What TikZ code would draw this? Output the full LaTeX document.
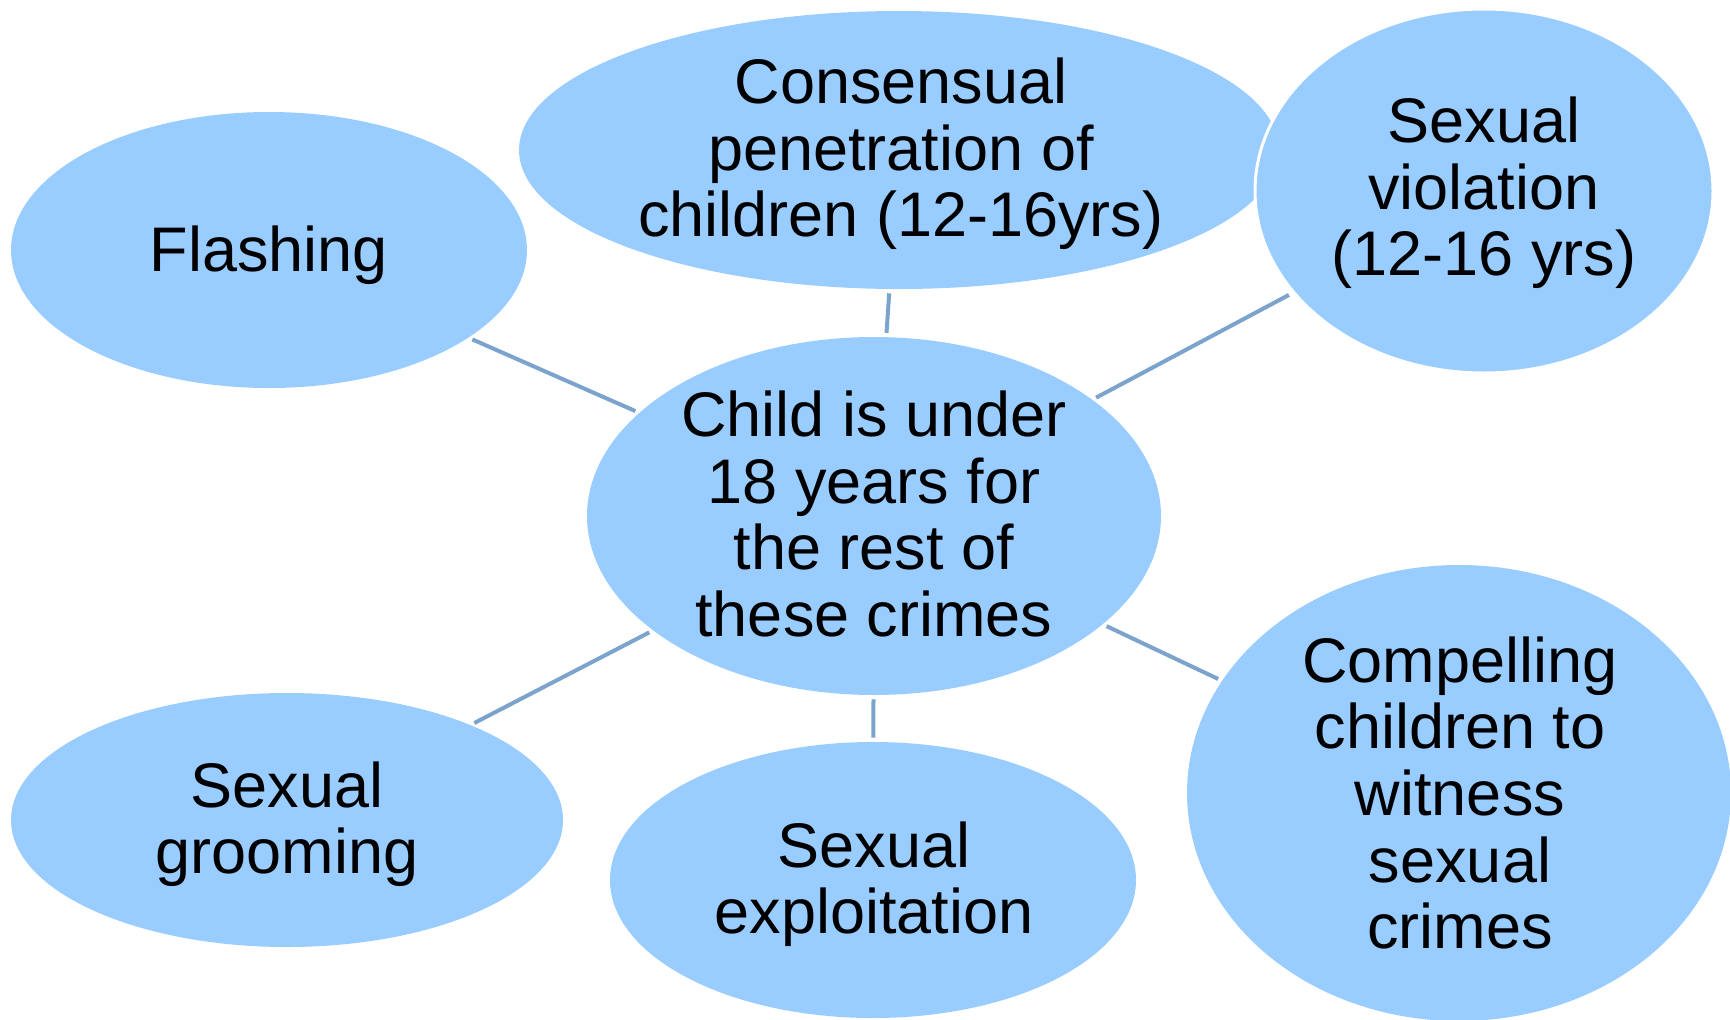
\documentclass[tikz,border=0pt]{standalone}
\usepackage{fontspec}
\setmainfont{Liberation Sans}
\definecolor{crimeblue}{RGB}{153, 204, 255}
\definecolor{linkblue}{RGB}{123, 163, 204}
\usepackage{tikz}
\usetikzlibrary{shapes, arrows.meta, positioning}

\begin{document}
\begin{tikzpicture}[
  x=0.5pt, y=-0.5pt,
  crime/.style={ellipse, fill=crimeblue, inner sep=0pt},
  ctext/.style={align=center, inner sep=0pt, font=\fontsize{31.5}{33.3}\selectfont},
  link/.style={draw=linkblue, line width=2pt, shorten >=2pt, shorten <=2pt}
]
  \clip (0,0) rectangle (1730,1019);
  % ellipses
  \node[crime, minimum width=258pt, minimum height=138pt] (flash) at (269,250) {};
  \node[crime, minimum width=380pt, minimum height=139pt] (consent) at (899,150) {};
  \node[crime, minimum width=229pt, minimum height=182pt, draw=white, line width=1.5pt] (violate) at (1484,191) {};
  \node[crime, minimum width=287pt, minimum height=179pt] (child) at (874,516) {};
  \node[crime, minimum width=276pt, minimum height=127pt] (groom) at (287,820) {};
  \node[crime, minimum width=263pt, minimum height=138pt] (exploit) at (873,880) {};
  \node[crime, minimum width=272pt, minimum height=228pt] (compel) at (1459,793) {};
  % texts
  \node[ctext] (flashtxt) at (269,255) {Flashing};
  \node[ctext] (consenttxt) at (901,154) {Consensual\\penetration of\\children (12-16yrs)};
  \node[ctext] (violatetxt) at (1484,193) {Sexual\\violation\\(12-16 yrs)};
  \node[ctext] (childtxt) at (874,514) {Child is under\\18 years for\\the rest of\\these crimes};
  \node[ctext] (groomtxt) at (287,824) {Sexual\\grooming};
  \node[ctext] (exploittxt) at (874,884) {Sexual\\exploitation};
  \node[ctext] (compeltxt) at (1460,793) {Compelling\\children to\\witness\\sexual\\crimes};
  % connectors
  \draw[link] (flash) -- (child);
  \draw[link] (consent) -- (child);
  \draw[link] (violate) -- (child);
  \draw[link] (groom) -- (child);
  \draw[link] (exploit) -- (child);
  \draw[link] (compel) -- (child);
\end{tikzpicture}
\end{document}
